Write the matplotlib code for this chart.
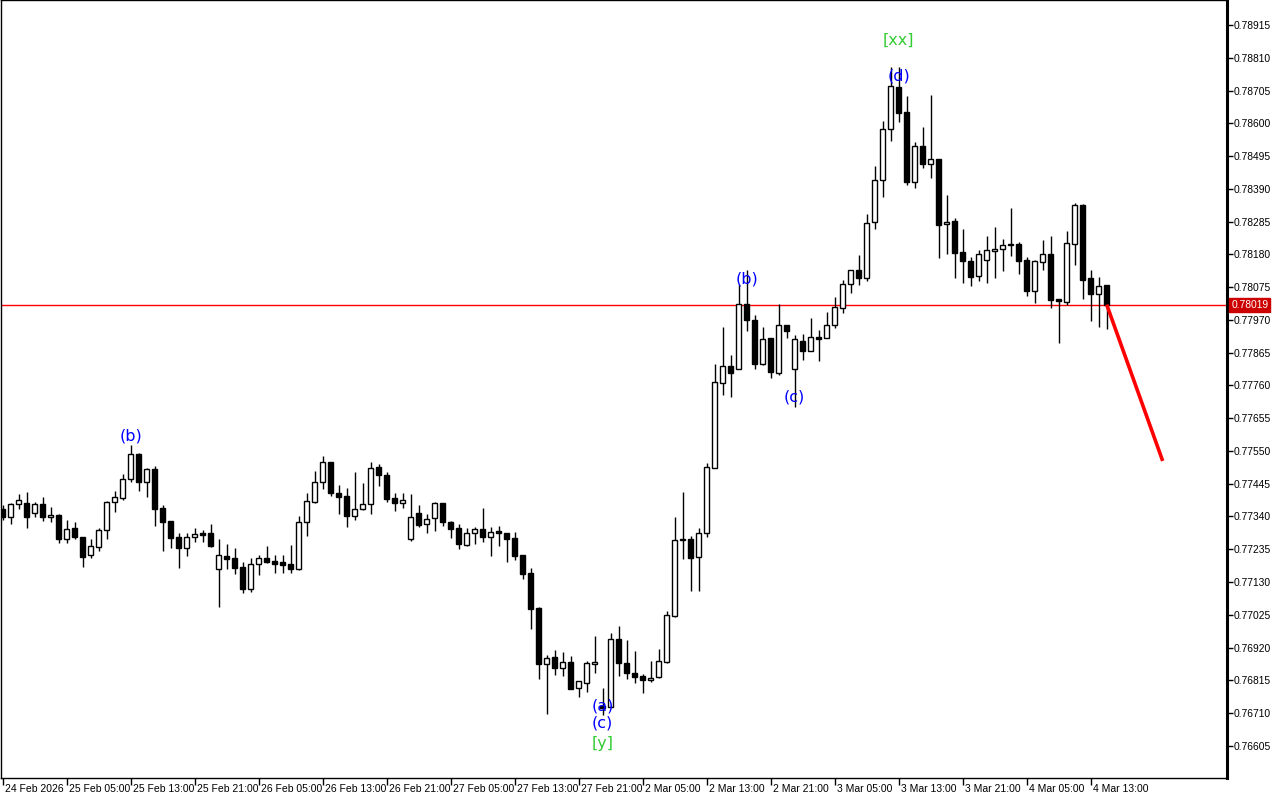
import numpy as np
import matplotlib.pyplot as plt

# свечи H1, цены
opens = [0.77364, 0.77338, 0.77380, 0.77383, 0.77351, 0.77380, 0.77338, 0.77344, 0.77268, 0.77303,
         0.77274, 0.77216, 0.77242, 0.77296, 0.77386, 0.77399, 0.77460, 0.77540, 0.77450, 0.77492,
         0.77367, 0.77325, 0.77274, 0.77239, 0.77274, 0.77287, 0.77287, 0.77171, 0.77213, 0.77207,
         0.77178, 0.77107, 0.77187, 0.77207, 0.77197, 0.77194, 0.77187, 0.77171, 0.77322, 0.77386,
         0.77450, 0.77514, 0.77415, 0.77405, 0.77341, 0.77364, 0.77380, 0.77498, 0.77473, 0.77399,
         0.77383, 0.77268, 0.77351, 0.77316, 0.77335, 0.77383, 0.77322, 0.77303, 0.77248, 0.77287,
         0.77300, 0.77274, 0.77293, 0.77287, 0.77271, 0.77216, 0.77158, 0.77046, 0.76867, 0.76889,
         0.76854, 0.76873, 0.76790, 0.76806, 0.76867, 0.76732, 0.76729, 0.76947, 0.76870, 0.76838,
         0.76828, 0.76816, 0.76825, 0.76873, 0.77021, 0.77268, 0.77268, 0.77210, 0.77287, 0.77495,
         0.77768, 0.77822, 0.77812, 0.78021, 0.77969, 0.77828, 0.77912, 0.77800, 0.77953, 0.77812,
         0.77902, 0.77870, 0.77915, 0.77912, 0.77953, 0.78008, 0.78085, 0.78130, 0.78104, 0.78284,
         0.78418, 0.78582, 0.78716, 0.78636, 0.78412, 0.78527, 0.78469, 0.78485, 0.78277, 0.78287,
         0.78187, 0.78158, 0.78110, 0.78162, 0.78191, 0.78197, 0.78210, 0.78213, 0.78162, 0.78062,
         0.78155, 0.78181, 0.78037, 0.78027, 0.78213, 0.78338, 0.78104, 0.78053, 0.78082]
highs = [0.77377, 0.77383, 0.77412, 0.77418, 0.77386, 0.77402, 0.77370, 0.77348, 0.77328, 0.77322,
         0.77274, 0.77268, 0.77303, 0.77389, 0.77421, 0.77476, 0.77569, 0.77543, 0.77495, 0.77502,
         0.77377, 0.77325, 0.77287, 0.77287, 0.77303, 0.77296, 0.77316, 0.77268, 0.77252, 0.77239,
         0.77194, 0.77207, 0.77216, 0.77245, 0.77216, 0.77216, 0.77248, 0.77341, 0.77415, 0.77485,
         0.77533, 0.77514, 0.77441, 0.77431, 0.77482, 0.77447, 0.77514, 0.77508, 0.77482, 0.77415,
         0.77415, 0.77412, 0.77377, 0.77348, 0.77386, 0.77383, 0.77325, 0.77316, 0.77303, 0.77306,
         0.77367, 0.77306, 0.77309, 0.77287, 0.77290, 0.77216, 0.77175, 0.77050, 0.76896, 0.76912,
         0.76905, 0.76892, 0.76812, 0.76876, 0.76957, 0.76790, 0.76966, 0.76989, 0.76944, 0.76908,
         0.76835, 0.76876, 0.76915, 0.77037, 0.77338, 0.77418, 0.77277, 0.77303, 0.77511, 0.77828,
         0.77947, 0.77857, 0.78085, 0.78130, 0.77985, 0.77947, 0.77912, 0.78021, 0.77953, 0.77921,
         0.77925, 0.77976, 0.77937, 0.77995, 0.78043, 0.78098, 0.78130, 0.78178, 0.78309, 0.78463,
         0.78607, 0.78780, 0.78780, 0.78687, 0.78540, 0.78588, 0.78691, 0.78485, 0.78370, 0.78296,
         0.78261, 0.78171, 0.78194, 0.78239, 0.78267, 0.78229, 0.78328, 0.78219, 0.78171, 0.78162,
         0.78226, 0.78239, 0.78037, 0.78255, 0.78344, 0.78341, 0.78130, 0.78107, 0.78082]
lows = [0.77328, 0.77316, 0.77364, 0.77303, 0.77338, 0.77325, 0.77322, 0.77255, 0.77255, 0.77268,
        0.77178, 0.77207, 0.77229, 0.77268, 0.77354, 0.77393, 0.77450, 0.77421, 0.77402, 0.77309,
        0.77229, 0.77239, 0.77175, 0.77213, 0.77258, 0.77258, 0.77242, 0.77050, 0.77171, 0.77155,
        0.77094, 0.77098, 0.77152, 0.77191, 0.77158, 0.77158, 0.77158, 0.77168, 0.77277, 0.77383,
        0.77428, 0.77405, 0.77348, 0.77306, 0.77328, 0.77360, 0.77348, 0.77437, 0.77386, 0.77357,
        0.77367, 0.77261, 0.77306, 0.77287, 0.77293, 0.77309, 0.77271, 0.77236, 0.77245, 0.77252,
        0.77258, 0.77213, 0.77245, 0.77194, 0.77200, 0.77139, 0.76979, 0.76819, 0.76707, 0.76832,
        0.76828, 0.76787, 0.76761, 0.76777, 0.76838, 0.76703, 0.76729, 0.76828, 0.76819, 0.76806,
        0.76774, 0.76809, 0.76822, 0.76870, 0.77017, 0.77203, 0.77101, 0.77101, 0.77274, 0.77495,
        0.77729, 0.77723, 0.77812, 0.77934, 0.77812, 0.77825, 0.77784, 0.77793, 0.77912, 0.77691,
        0.77841, 0.77870, 0.77838, 0.77912, 0.77944, 0.77992, 0.78056, 0.78082, 0.78094, 0.78261,
        0.78364, 0.78543, 0.78604, 0.78402, 0.78392, 0.78457, 0.78425, 0.78168, 0.78181, 0.78104,
        0.78088, 0.78078, 0.78094, 0.78088, 0.78104, 0.78126, 0.78175, 0.78117, 0.78046, 0.78024,
        0.78130, 0.78008, 0.77896, 0.78018, 0.78146, 0.78037, 0.77966, 0.77947, 0.77941]
closes = [0.77338, 0.77380, 0.77393, 0.77338, 0.77380, 0.77338, 0.77344, 0.77268, 0.77300, 0.77274,
          0.77210, 0.77245, 0.77296, 0.77386, 0.77402, 0.77460, 0.77540, 0.77450, 0.77492, 0.77364,
          0.77322, 0.77271, 0.77239, 0.77274, 0.77284, 0.77280, 0.77245, 0.77216, 0.77203, 0.77175,
          0.77107, 0.77187, 0.77207, 0.77194, 0.77187, 0.77184, 0.77171, 0.77322, 0.77389, 0.77450,
          0.77514, 0.77415, 0.77402, 0.77341, 0.77364, 0.77380, 0.77495, 0.77473, 0.77396, 0.77383,
          0.77393, 0.77338, 0.77312, 0.77332, 0.77383, 0.77322, 0.77300, 0.77252, 0.77287, 0.77300,
          0.77274, 0.77290, 0.77287, 0.77268, 0.77213, 0.77155, 0.77043, 0.76867, 0.76886, 0.76854,
          0.76873, 0.76787, 0.76812, 0.76870, 0.76873, 0.76726, 0.76947, 0.76870, 0.76838, 0.76825,
          0.76816, 0.76822, 0.76876, 0.77024, 0.77264, 0.77264, 0.77207, 0.77287, 0.77498, 0.77771,
          0.77822, 0.77800, 0.78021, 0.77969, 0.77828, 0.77909, 0.77803, 0.77953, 0.77934, 0.77909,
          0.77870, 0.77915, 0.77909, 0.77953, 0.78011, 0.78085, 0.78130, 0.78104, 0.78280, 0.78418,
          0.78582, 0.78719, 0.78633, 0.78412, 0.78527, 0.78469, 0.78485, 0.78274, 0.78284, 0.78184,
          0.78158, 0.78107, 0.78181, 0.78194, 0.78197, 0.78210, 0.78213, 0.78158, 0.78062, 0.78158,
          0.78181, 0.78034, 0.78030, 0.78216, 0.78338, 0.78098, 0.78053, 0.78078, 0.78019]

time_labels = ['24 Feb 2026', '25 Feb 05:00', '25 Feb 13:00', '25 Feb 21:00', '26 Feb 05:00',
               '26 Feb 13:00', '26 Feb 21:00', '27 Feb 05:00', '27 Feb 13:00', '27 Feb 21:00',
               '2 Mar 05:00', '2 Mar 13:00', '2 Mar 21:00', '3 Mar 05:00', '3 Mar 13:00',
               '3 Mar 21:00', '4 Mar 05:00', '4 Mar 13:00']
price_ticks = [0.76605, 0.76710, 0.76815, 0.76920, 0.77025, 0.77130, 0.77235, 0.77340, 0.77445,
               0.77550, 0.77655, 0.77760, 0.77865, 0.77970, 0.78075, 0.78180, 0.78285, 0.78390,
               0.78495, 0.78600, 0.78705, 0.78810, 0.78915]

current_price = 0.78019
forecast_bars = [138, 145]
forecast_prices = [0.78019, 0.77518]

# волновая разметка: (бар, цена, текст, цвет)
wave_labels = [(16, 0.77598, '(b)', '#0000ff'),
               (93, 0.78101, '(b)', '#0000ff'),
               (99, 0.77723, '(c)', '#0000ff'),
               (112, 0.78751, '(d)', '#0000ff'),
               (112, 0.78867, '[xx]', '#33cc33'),
               (75, 0.76732, '(a)', '#0000ff'),
               (75, 0.76678, '(c)', '#0000ff'),
               (75, 0.76614, '[y]', '#33cc33')]

o = np.array(opens)
h = np.array(highs)
l = np.array(lows)
c = np.array(closes)
x = np.arange(len(o))

axis_font = 'Liberation Sans'

fig = plt.figure(figsize=(12.8, 8), dpi=100)
ax = fig.add_axes([1 / 1280, 22 / 800, 1226 / 1280, 778 / 800])

# тени
ax.vlines(x, l, h, color='black', linewidth=1.0, zorder=2)
# тела
up = c >= o
bottom = np.minimum(o, c)
height = np.maximum(np.abs(c - o), 0.000008)
ax.bar(x[up], height[up], bottom=bottom[up], width=0.6, facecolor='white',
       edgecolor='black', linewidth=1.0, zorder=3)
ax.bar(x[~up], height[~up], bottom=bottom[~up], width=0.6, facecolor='black',
       edgecolor='black', linewidth=1.0, zorder=3)

ax.axhline(current_price, color='#ff0000', linewidth=1.0, zorder=1)
ax.plot(forecast_bars, forecast_prices, color='#ff0000', linewidth=2.6, zorder=4,
        solid_capstyle='butt')

for bar_i, price, txt, col in wave_labels:
    ax.text(bar_i, price, txt, color=col, fontsize=11.5, ha='center', va='center', zorder=5)

ax.set_xlim(-0.2125, 153.04)
ax.set_ylim(0.76502, 0.78995)

ax.yaxis.tick_right()
ax.set_yticks(price_ticks)
ax.set_yticklabels(['%.5f' % p for p in price_ticks], family=axis_font)
ax.tick_params(axis='y', direction='out', length=4, width=1, labelsize=7.4, pad=1, colors='black')

ax.set_xticks(x[::8][:len(time_labels)])
ax.set_xticklabels([])
ax.tick_params(axis='x', direction='out', length=5, width=1)
for bar_i, lab in zip(x[::8], time_labels):
    ax.annotate(lab, xy=(bar_i, 0), xycoords=('data', 'axes fraction'),
                xytext=(1.5, -4), textcoords='offset points', ha='left', va='top',
                fontsize=7.5, family=axis_font)

for side in ['left', 'top', 'bottom']:
    ax.spines[side].set_linewidth(1.0)
ax.spines['right'].set_linewidth(2.2)

# метка текущей цены
ax.annotate('%.5f' % current_price, xy=(1, current_price), xycoords=('axes fraction', 'data'),
            xytext=(3, 0), textcoords='offset points', ha='left', va='center', fontsize=7.4,
            family=axis_font, color='white',
            bbox=dict(boxstyle='square,pad=0.2', facecolor='#cc0000', edgecolor='#cc0000'),
            zorder=6, annotation_clip=False)

fig.savefig('out.png', dpi=100, facecolor='white')
